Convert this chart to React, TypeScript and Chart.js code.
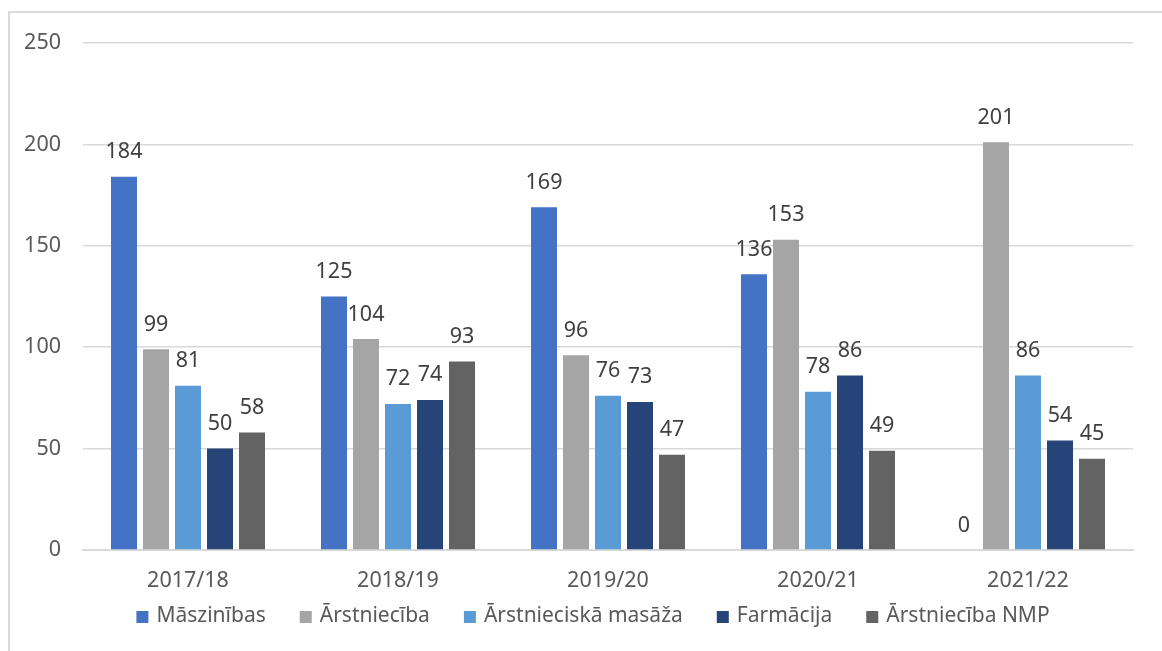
import React, { useEffect, useRef } from "react";
import { Chart, registerables } from "chart.js";

Chart.register(...registerables);

const categories = ["2017/18", "2018/19", "2019/20", "2020/21", "2021/22"];
const seriesNames = ["Māszinības", "Ārstniecība", "Ārstnieciskā masāža", "Farmācija", "Ārstniecība NMP"];
const maszinibas = [184, 125, 169, 136, 0];
const arstnieciba = [99, 104, 96, 153, 201];
const masaza = [81, 72, 76, 78, 86];
const farmacija = [50, 74, 73, 86, 54];
const nmp = [58, 93, 47, 49, 45];
const yTicks = [0, 50, 100, 150, 200, 250];
const colors = ["#4472C4", "#A5A5A5", "#5B9BD5", "#264478", "#636363"];

const FONT = "'Noto Sans', 'DejaVu Sans', sans-serif";

const dataLabels = {
  id: "dataLabels",
  afterDatasetsDraw(chart: any) {
    const ctx = chart.ctx;
    ctx.save();
    ctx.font = `21.5px ${FONT}`;
    ctx.fillStyle = "#404040";
    ctx.textAlign = "center";
    ctx.textBaseline = "alphabetic";
    chart.data.datasets.forEach((ds: any, i: number) => {
      const meta = chart.getDatasetMeta(i);
      meta.data.forEach((el: any, j: number) => {
        ctx.fillText(String(ds.data[j]), el.x, el.y - 18.5);
      });
    });
    ctx.restore();
  },
};

const customLegend = {
  id: "customLegend",
  afterDraw(chart: any) {
    const ctx = chart.ctx;
    ctx.save();
    ctx.font = `21px ${FONT}`;
    const box = 12;
    const boxGap = 8;
    const itemGap = 34;
    const items = chart.data.datasets.map((ds: any) => ({
      label: ds.label,
      color: ds.backgroundColor,
      w: ctx.measureText(ds.label).width,
    }));
    const total =
      items.reduce((s: number, it: any) => s + box + boxGap + it.w, 0) + itemGap * (items.length - 1);
    let x = 593 - total / 2;
    const cy = 616;
    ctx.textBaseline = "middle";
    ctx.textAlign = "left";
    items.forEach((it: any) => {
      ctx.fillStyle = it.color;
      ctx.fillRect(x, cy - box / 2 + 1, box, box);
      ctx.fillStyle = "#595959";
      ctx.fillText(it.label, x + box + boxGap, cy);
      x += box + boxGap + it.w + itemGap;
    });
    ctx.restore();
  },
};

export default function App() {
  const ref = useRef<HTMLCanvasElement>(null);

  useEffect(() => {
    if (!ref.current) return;
    const allSeries = [maszinibas, arstnieciba, masaza, farmacija, nmp];
    const chart = new Chart(ref.current, {
      type: "bar",
      data: {
        labels: categories,
        datasets: allSeries.map((d, i) => ({
          label: seriesNames[i],
          data: d,
          backgroundColor: colors[i],
          borderWidth: 0,
          categoryPercentage: 0.762,
          barPercentage: 0.8125,
        })),
      },
      options: {
        responsive: false,
        animation: false,
        devicePixelRatio: 1,
        layout: { padding: { left: 0, right: 29, top: 43, bottom: 61 } },
        plugins: {
          legend: { display: false },
          tooltip: { enabled: false },
          title: { display: false },
        },
        scales: {
          x: {
            grid: { display: false, drawTicks: false },
            border: { display: true, color: "#d9d9d9", width: 2 },
            ticks: {
              color: "#595959",
              font: { family: FONT, size: 21.5 },
              padding: 18,
              maxRotation: 0,
            },
            afterFit(scale: any) {
              scale.height = 40;
            },
          },
          y: {
            min: 0,
            max: 250,
            afterBuildTicks(scale: any) {
              scale.ticks = yTicks.map((v) => ({ value: v }));
            },
            grid: { color: "#d9d9d9", lineWidth: 1.5, drawTicks: false },
            border: { display: false },
            ticks: {
              color: "#595959",
              font: { family: FONT, size: 21.5 },
              padding: 22,
            },
            afterFit(scale: any) {
              scale.width = 83;
            },
          },
        },
      },
      plugins: [dataLabels, customLegend],
    });
    return () => chart.destroy();
  }, []);

  return (
    <div
      style={{
        position: "fixed",
        left: 0,
        top: 0,
        width: 1162,
        height: 651,
        overflow: "hidden",
        background: "#ffffff",
      }}
    >
      <div
        style={{
          position: "absolute",
          left: 8,
          top: 11,
          width: 2000,
          height: 2000,
          borderTop: "2px solid #d9d9d9",
          borderLeft: "2px solid #d9d9d9",
        }}
      />
      <canvas
        ref={ref}
        width={1162}
        height={651}
        style={{ position: "absolute", left: 0, top: 0, width: 1162, height: 651 }}
      />
    </div>
  );
}
